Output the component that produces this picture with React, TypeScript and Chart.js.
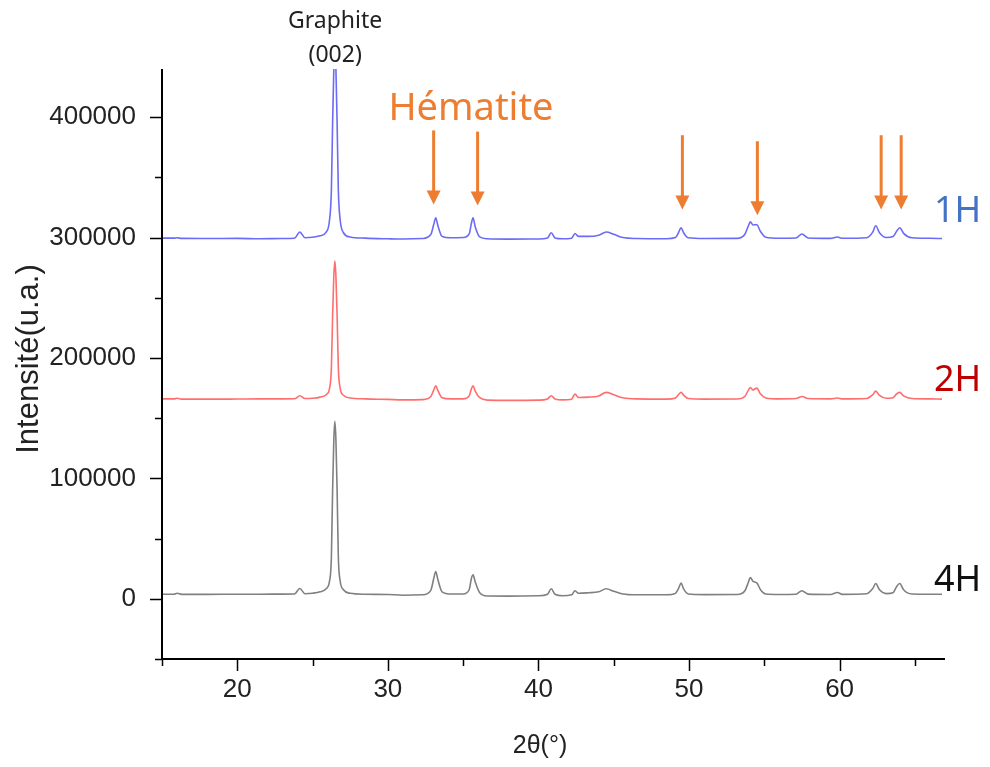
import { useEffect, useRef } from "react";
import { Chart, registerables } from "chart.js";

Chart.register(...registerables);

// 2θ positions (degrees)
const twoTheta = [
  15.0, 15.8, 16.0, 16.3, 18.0, 20.0, 21.5, 23.0, 23.8, 24.15,
  24.5, 25.0, 25.5, 25.9, 26.13, 26.25, 26.33, 26.41, 26.48, 26.55,
  26.63, 26.71, 26.83, 27.05, 27.5, 28.5, 30.0, 31.0, 32.3, 32.85,
  33.05, 33.18, 33.32, 33.6, 34.2, 35.0, 35.4, 35.55, 35.66, 35.8,
  36.1, 36.6, 38.0, 40.0, 40.6, 40.85, 41.1, 41.6, 42.2, 42.43,
  42.65, 43.3, 44.0, 44.5, 45.0, 45.6, 46.5, 48.5, 49.1, 49.3,
  49.47, 49.65, 49.95, 51.0, 53.2, 53.7, 53.95, 54.07, 54.25, 54.5,
  54.75, 55.1, 56.0, 57.1, 57.5, 57.9, 59.4, 59.85, 60.2, 61.8,
  62.2, 62.4, 62.65, 63.1, 63.55, 63.8, 64.0, 64.25, 64.8, 66.0, 66.8,
];

const intensity1H = [
  299500, 299500, 299800, 299300, 299200, 299300, 299000, 299200, 299400, 304600,
  299800, 300200, 301500, 304500, 315000, 340000, 395000, 440000, 470000, 440000,
  395000, 340000, 315000, 304000, 300500, 299500, 299000, 298800, 299200, 302500,
  311000, 316500, 310000, 301000, 299800, 300000, 303000, 312000, 316500, 309000,
  300500, 299000, 298700, 298800, 299600, 304000, 299700, 299000, 299500, 303400,
  301000, 301000, 302000, 304600, 302800, 300000, 299200, 299000, 300000, 304000,
  308200, 303800, 299800, 299200, 299300, 302500, 310000, 313000, 310500, 310700,
  305000, 300300, 299400, 299600, 303000, 299700, 299300, 300500, 299400, 299900,
  304500, 309800, 304000, 300000, 300800, 305500, 308200, 303500, 299800, 299400, 299200,
];

const intensity2H = [
  166000, 166000, 166500, 165800, 165800, 165900, 166000, 166000, 166100, 168600,
  166300, 166500, 167500, 169500, 175000, 192000, 235000, 268000, 280500, 268000,
  235000, 192000, 175000, 169000, 166800, 166000, 165600, 165200, 165400, 168000,
  173500, 176800, 173000, 167000, 166000, 166000, 168500, 174500, 176800, 172500,
  167000, 165000, 164800, 165000, 166000, 168600, 166000, 165200, 165800, 170000,
  167200, 167500, 168500, 171400, 169500, 167000, 166000, 165800, 166800, 169500,
  171400, 169000, 166300, 165800, 165900, 168000, 173500, 175500, 173500, 175000,
  170000, 166800, 166000, 166300, 168000, 166300, 166000, 166800, 166000, 166400,
  169500, 172500, 169000, 166500, 167000, 170300, 171400, 168500, 166300, 166000, 165800,
];

const intensity4H = [
  3800, 3800, 4600, 3700, 3700, 3800, 3800, 3900, 4000, 8600,
  4200, 4600, 5800, 8300, 15000, 35000, 90000, 132000, 147500, 132000,
  90000, 35000, 15000, 7500, 4600, 3800, 3600, 3000, 3300, 7000,
  17000, 22700, 16000, 5800, 4000, 4000, 7500, 17000, 20000, 14000,
  5000, 2300, 2200, 2500, 3800, 8300, 3800, 2500, 3300, 6700,
  4600, 5000, 5800, 8300, 6200, 4000, 3300, 3300, 4500, 8500,
  13000, 8000, 4000, 3500, 3600, 6500, 14000, 17700, 14500, 13300,
  7500, 4000, 3600, 3800, 6700, 3900, 3600, 5200, 3700, 4200,
  8500, 12700, 7500, 4300, 5000, 10500, 12700, 7500, 4000, 3800, 3800,
];

const seriesLabels = ["1H", "2H", "4H"];
const xMajorTicks = [20, 30, 40, 50, 60];
const xMinorTicks = [15, 25, 35, 45, 55, 65];
const yMajorTicks = [0, 100000, 200000, 300000, 400000];
const yMinorTicks = [-50000, 50000, 150000, 250000, 350000];

// Hématite markers (2θ, arrow start and tip intensity)
const hematiteArrowX = [33.04, 35.96, 49.56, 54.54, 62.76, 64.09];
const hematiteArrowTop = [389000, 388000, 385000, 380000, 385000, 385000];
const hematiteArrowTip = [327500, 326700, 323300, 318600, 323300, 323300];

const lineColors = ["#6b6bf5", "#ff6e6e", "#808080"];
const labelColors = ["#4472c4", "#c00000", "#111111"];
const labelY = [212, 381, 581];

const annotations = {
  id: "annotations",
  afterDraw(chart: any) {
    const { ctx, chartArea, scales } = chart;
    const xs = scales.x;
    const ys = scales.y;
    const L = chartArea.left;
    const B = chartArea.bottom;
    ctx.save();
    // axes
    ctx.strokeStyle = "#000";
    ctx.lineWidth = 2;
    ctx.beginPath();
    ctx.moveTo(L, chartArea.top);
    ctx.lineTo(L, B + 1);
    ctx.moveTo(L - 1, B);
    ctx.lineTo(chartArea.right, B);
    ctx.stroke();
    // ticks
    ctx.lineWidth = 1.5;
    ctx.beginPath();
    xMajorTicks.forEach((v) => {
      const p = Math.round(xs.getPixelForValue(v)) + 0.5;
      ctx.moveTo(p, B);
      ctx.lineTo(p, B + 12);
    });
    xMinorTicks.forEach((v) => {
      const p = Math.round(xs.getPixelForValue(v)) + 0.5;
      ctx.moveTo(p, B);
      ctx.lineTo(p, B + 7);
    });
    yMajorTicks.forEach((v) => {
      const p = Math.round(ys.getPixelForValue(v)) + 0.5;
      ctx.moveTo(L, p);
      ctx.lineTo(L - 12, p);
    });
    yMinorTicks.forEach((v) => {
      const p = Math.round(ys.getPixelForValue(v)) + 0.5;
      ctx.moveTo(L, p);
      ctx.lineTo(L - 7, p);
    });
    ctx.stroke();

    // axis titles
    ctx.fillStyle = "#222";
    ctx.textAlign = "center";
    ctx.textBaseline = "middle";
    ctx.font = "25px 'Liberation Sans', Arial, sans-serif";
    ctx.fillText("2θ(°)", 540, 746);
    ctx.save();
    ctx.translate(29, 359);
    ctx.rotate(-Math.PI / 2);
    ctx.font = "31px 'Liberation Sans', Arial, sans-serif";
    ctx.fillText("Intensité(u.a.)", 0, 0);
    ctx.restore();

    // Graphite label
    const gx = xs.getPixelForValue(26.5);
    ctx.fillStyle = "#222";
    ctx.font = "23px 'Noto Sans', sans-serif";
    ctx.fillText("Graphite", gx, 21);
    ctx.fillText("(002)", gx, 55);

    // Hématite
    ctx.fillStyle = "#ed7d31";
    ctx.font = "38px 'Noto Sans', sans-serif";
    ctx.textBaseline = "alphabetic";
    ctx.fillText("Hématite", 471, 120);

    ctx.strokeStyle = "#ed7d31";
    ctx.lineWidth = 3;
    hematiteArrowX.forEach((v, i) => {
      const x = xs.getPixelForValue(v);
      const y0 = ys.getPixelForValue(hematiteArrowTop[i]);
      const y1 = ys.getPixelForValue(hematiteArrowTip[i]);
      ctx.beginPath();
      ctx.moveTo(x, y0);
      ctx.lineTo(x, y1 - 10);
      ctx.stroke();
      ctx.beginPath();
      ctx.moveTo(x - 7, y1 - 14);
      ctx.lineTo(x + 7, y1 - 14);
      ctx.lineTo(x, y1);
      ctx.closePath();
      ctx.fill();
    });

    // series labels
    ctx.textAlign = "left";
    ctx.textBaseline = "middle";
    ctx.font = "36px 'Noto Sans', sans-serif";
    seriesLabels.forEach((s, i) => {
      ctx.fillStyle = labelColors[i];
      ctx.fillText(s, 934, labelY[i]);
    });
    ctx.restore();
  },
};

export default function App() {
  const ref = useRef<HTMLCanvasElement | null>(null);
  useEffect(() => {
    document.body.style.margin = "0";
    const canvas = ref.current;
    if (!canvas) return;
    const series = [intensity1H, intensity2H, intensity4H];
    const chart = new Chart(canvas, {
      type: "line",
      data: {
        datasets: series.map((vals, i) => ({
          label: seriesLabels[i],
          data: twoTheta.map((t, j) => ({ x: t, y: vals[j] })),
          borderColor: lineColors[i],
          borderWidth: 1.6,
          pointRadius: 0,
          cubicInterpolationMode: "monotone" as const,
          fill: false,
        })),
      },
      options: {
        responsive: false,
        animation: false,
        devicePixelRatio: 1,
        layout: { padding: { top: 69, right: 45, left: 0, bottom: 0 } },
        plugins: { legend: { display: false }, tooltip: { enabled: false } },
        scales: {
          x: {
            type: "linear",
            min: 15,
            max: 67,
            grid: { display: false, drawTicks: false },
            border: { display: false },
            afterFit: (s: any) => {
              s.height = 108;
            },
            afterBuildTicks: (s: any) => {
              s.ticks = xMajorTicks.map((v) => ({ value: v }));
            },
            ticks: {
              padding: 15,
              color: "#222",
              font: { family: "'Liberation Sans', Arial, sans-serif", size: 26 },
              callback: (v: any) => String(v),
              maxRotation: 0,
            },
          },
          y: {
            type: "linear",
            min: -50000,
            max: 440000,
            grid: { display: false, drawTicks: false },
            border: { display: false },
            afterFit: (s: any) => {
              s.width = 162;
            },
            afterBuildTicks: (s: any) => {
              s.ticks = yMajorTicks.map((v) => ({ value: v }));
            },
            ticks: {
              padding: 26,
              color: "#222",
              font: { family: "'Liberation Sans', Arial, sans-serif", size: 26 },
              callback: (v: any) => String(v),
            },
          },
        },
      },
      plugins: [annotations],
    });
    return () => chart.destroy();
  }, []);
  return (
    <canvas
      ref={ref}
      width={990}
      height={767}
      style={{ display: "block", width: 990, height: 767 }}
    />
  );
}
